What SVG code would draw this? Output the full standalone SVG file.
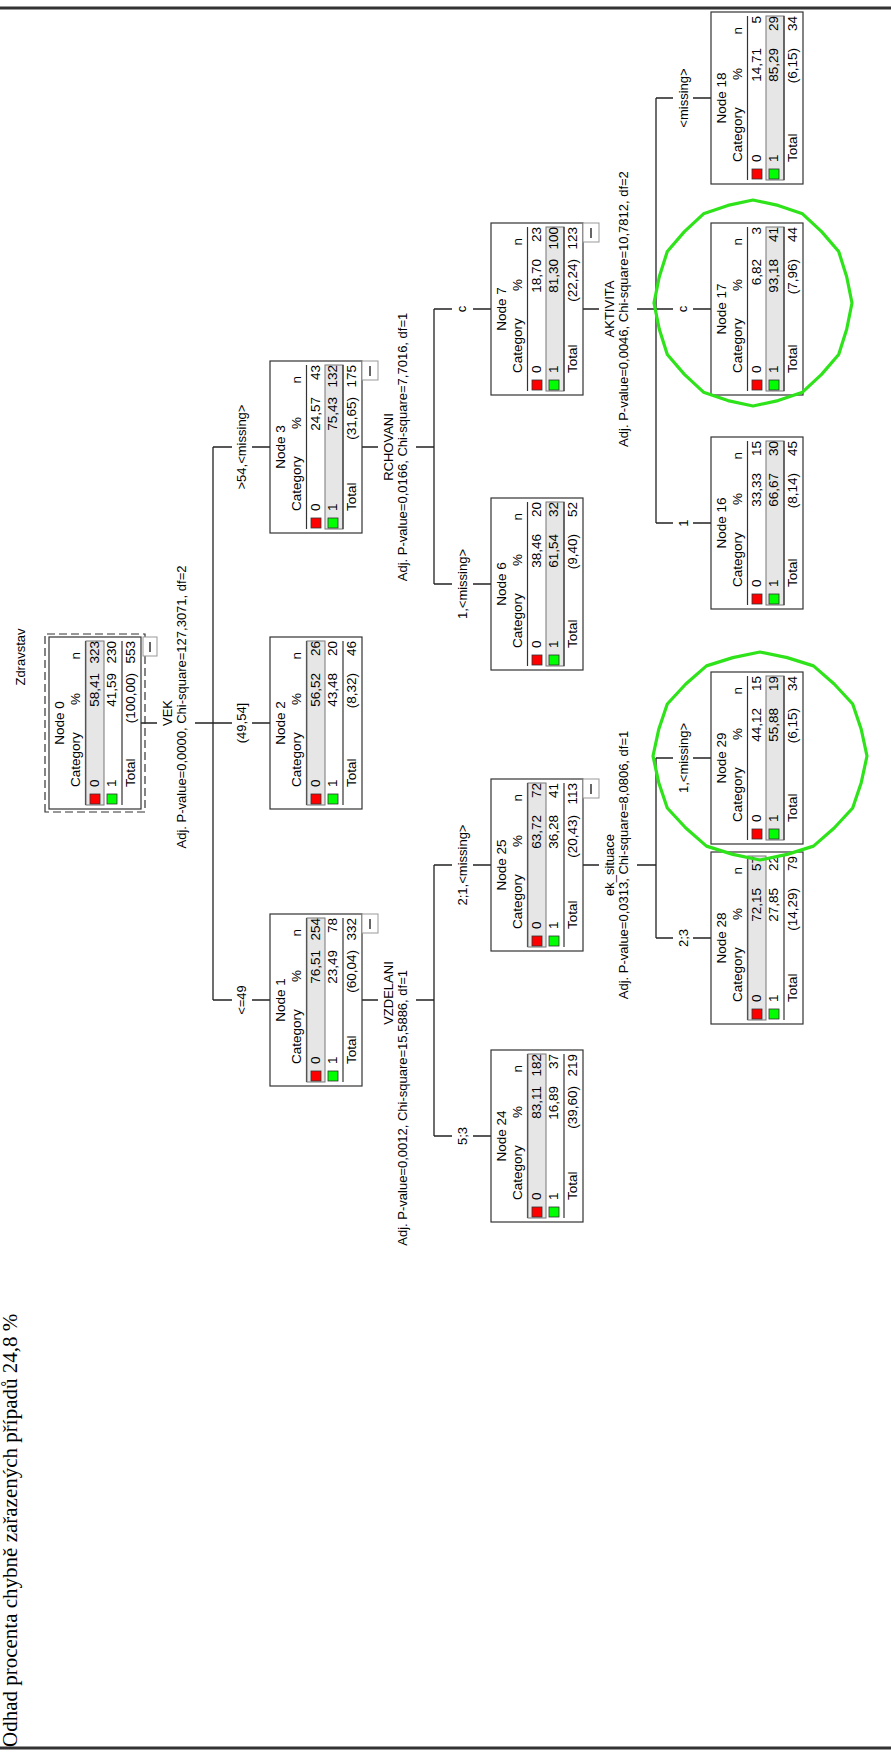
<svg xmlns="http://www.w3.org/2000/svg" width="891" height="1753" viewBox="0 0 891 1753">
<style>
.t{font-family:"Liberation Sans",Arial,sans-serif;font-size:13.5px;fill:#000}
.s{font-size:13px}
.m{text-anchor:middle}
.e{text-anchor:end}
.box{fill:#fff;stroke:#333;stroke-width:1.2}
.band{fill:#e6e6e6;stroke:#777;stroke-width:1}
.sep{stroke:#333;stroke-width:1.2}
.ln{stroke:#222;stroke-width:1.3;fill:none}
.red{fill:#f00;stroke:#333;stroke-width:.8}
.grn{fill:#0f0;stroke:#333;stroke-width:.8}
.btn{fill:#fff;stroke:#999;stroke-width:1}
.mi{stroke:#666;stroke-width:2}
.circ{fill:none;stroke:#2fe31b;stroke-width:3.2;stroke-linejoin:round}
.bd{stroke:#333;stroke-width:3}
</style>
<rect x="0" y="0" width="891" height="1753" fill="#fff"/>
<line class="bd" x1="0" y1="8" x2="891" y2="8"/>
<line class="bd" x1="0" y1="1748" x2="891" y2="1748"/>
<text x="17" y="1747" transform="rotate(-90 17 1747)" font-family="'Liberation Serif','Times New Roman',serif" font-size="21">Odhad procenta chybně zařazených případů 24,8 %</text>

<g transform="translate(0,1753) rotate(-90)">
<text class="t s m" x="1096" y="25">Zdravstav</text>

<g id="connectors">
<path class="ln" d="M1030 141V157M1030 195V213M753 362V378M753 416V434M1306 362V378M1306 416V434M888 583V599M888 637V656M1444 583V599M1444 637V656"/>
<path class="ln" d="M753 213H1306M1169 434H1444M617 434H888M1230 656H1655M815 656H995"/>
<path class="ln" d="M753 213V232M753 252V270M1030 213V232M1030 252V270M1306 213V232M1306 252V270"/>
<path class="ln" d="M1169 434V452M1169 473V491M1444 434V452M1444 473V491M617 434V452M617 473V491M888 434V452M888 473V491"/>
<path class="ln" d="M1230 656V673M1230 693V711M1444 656V673M1444 693V711M1655 656V673M1655 693V711M815 656V673M815 693V711M995 656V673M995 693V711"/>
<text class="t s m" x="753" y="246">&lt;=49</text>
<text class="t s m" x="1030" y="246">(49,54]</text>
<text class="t s m" x="1306" y="246">&gt;54,&lt;missing&gt;</text>
<text class="t s m" x="1169" y="467">1,&lt;missing&gt;</text>
<text class="t s m" x="1444" y="466">c</text>
<text class="t s m" x="617" y="467">5;3</text>
<text class="t s m" x="888" y="467">2;1,&lt;missing&gt;</text>
<text class="t s m" x="1230" y="688">1</text>
<text class="t s m" x="1444" y="687">c</text>
<text class="t s m" x="1655" y="688">&lt;missing&gt;</text>
<text class="t s m" x="815" y="688">2;3</text>
<text class="t s m" x="995" y="688">1,&lt;missing&gt;</text>
<text class="t s m" x="1040" y="172">VEK</text>
<text class="t s m" x="1046" y="186">Adj. P-value=0,0000, Chi-square=127,3071, df=2</text>
<text class="t s m" x="760" y="393">VZDELANI</text>
<text class="t s e" x="783" y="407">Adj. P-value=0,0012, Chi-square=15,5886, df=1</text>
<text class="t s m" x="1306" y="393">RCHOVANI</text>
<text class="t s m" x="1306" y="407">Adj. P-value=0,0166, Chi-square=7,7016, df=1</text>
<text class="t s m" x="888" y="614">ek_situace</text>
<text class="t s m" x="888" y="628">Adj. P-value=0,0313, Chi-square=8,0806, df=1</text>
<text class="t s m" x="1444" y="614">AKTIVITA</text>
<text class="t s m" x="1444" y="628">Adj. P-value=0,0046, Chi-square=10,7812, df=2</text>
</g>

<g id="node0" transform="translate(944,49)">
<rect x="-3" y="-4" width="178" height="100" fill="none" stroke="#333" stroke-width="1.2" stroke-dasharray="8,4"/>
<rect class="box" x="0" y="0" width="172" height="92" stroke-width="2"/>
<text class="t m" x="86" y="15">Node 0</text>
<text class="t" x="22" y="31">Category</text><text class="t e" x="116" y="31">%</text><text class="t e" x="157" y="31">n</text>
<line class="sep" x1="4" y1="36.5" x2="168" y2="36.5"/>
<rect class="band" x="4" y="37" width="164" height="18"/>
<rect class="red" x="5" y="41" width="10" height="10"/><text class="t" x="22" y="50">0</text><text class="t e" x="136" y="50">58,41</text><text class="t e" x="168" y="50">323</text>
<rect class="grn" x="5" y="58" width="10" height="10"/><text class="t" x="22" y="67">1</text><text class="t e" x="136" y="67">41,59</text><text class="t e" x="168" y="67">230</text>
<line class="sep" x1="4" y1="73" x2="168" y2="73"/>
<text class="t" x="22" y="86">Total</text><text class="t e" x="136" y="86">(100,00)</text><text class="t e" x="168" y="86">553</text>
<rect class="btn" x="153" y="94" width="19" height="14"/><line class="mi" x1="157" y1="101" x2="167" y2="101"/>
</g>

<g id="node1" transform="translate(667,270)">
<rect class="box" x="0" y="0" width="172" height="92"/>
<text class="t m" x="86" y="15">Node 1</text>
<text class="t" x="22" y="31">Category</text><text class="t e" x="116" y="31">%</text><text class="t e" x="157" y="31">n</text>
<line class="sep" x1="4" y1="36.5" x2="168" y2="36.5"/>
<rect class="band" x="4" y="37" width="164" height="18"/>
<rect class="red" x="5" y="41" width="10" height="10"/><text class="t" x="22" y="50">0</text><text class="t e" x="136" y="50">76,51</text><text class="t e" x="168" y="50">254</text>
<rect class="grn" x="5" y="58" width="10" height="10"/><text class="t" x="22" y="67">1</text><text class="t e" x="136" y="67">23,49</text><text class="t e" x="168" y="67">78</text>
<line class="sep" x1="4" y1="73" x2="168" y2="73"/>
<text class="t" x="22" y="86">Total</text><text class="t e" x="136" y="86">(60,04)</text><text class="t e" x="168" y="86">332</text>
<rect class="btn" x="153" y="92" width="19" height="16"/><line class="mi" x1="157" y1="100" x2="167" y2="100"/>
</g>

<g id="node2" transform="translate(944,270)">
<rect class="box" x="0" y="0" width="172" height="92"/>
<text class="t m" x="86" y="15">Node 2</text>
<text class="t" x="22" y="31">Category</text><text class="t e" x="116" y="31">%</text><text class="t e" x="157" y="31">n</text>
<line class="sep" x1="4" y1="36.5" x2="168" y2="36.5"/>
<rect class="band" x="4" y="37" width="164" height="18"/>
<rect class="red" x="5" y="41" width="10" height="10"/><text class="t" x="22" y="50">0</text><text class="t e" x="136" y="50">56,52</text><text class="t e" x="168" y="50">26</text>
<rect class="grn" x="5" y="58" width="10" height="10"/><text class="t" x="22" y="67">1</text><text class="t e" x="136" y="67">43,48</text><text class="t e" x="168" y="67">20</text>
<line class="sep" x1="4" y1="73" x2="168" y2="73"/>
<text class="t" x="22" y="86">Total</text><text class="t e" x="136" y="86">(8,32)</text><text class="t e" x="168" y="86">46</text>
</g>

<g id="node3" transform="translate(1220,270)">
<rect class="box" x="0" y="0" width="172" height="92"/>
<text class="t m" x="86" y="15">Node 3</text>
<text class="t" x="22" y="31">Category</text><text class="t e" x="116" y="31">%</text><text class="t e" x="157" y="31">n</text>
<line class="sep" x1="4" y1="36.5" x2="168" y2="36.5"/>
<rect class="band" x="4" y="55" width="164" height="18"/>
<rect class="red" x="5" y="41" width="10" height="10"/><text class="t" x="22" y="50">0</text><text class="t e" x="136" y="50">24,57</text><text class="t e" x="168" y="50">43</text>
<rect class="grn" x="5" y="58" width="10" height="10"/><text class="t" x="22" y="67">1</text><text class="t e" x="136" y="67">75,43</text><text class="t e" x="168" y="67">132</text>
<line class="sep" x1="4" y1="73" x2="168" y2="73"/>
<text class="t" x="22" y="86">Total</text><text class="t e" x="136" y="86">(31,65)</text><text class="t e" x="168" y="86">175</text>
<rect class="btn" x="153" y="92" width="19" height="16"/><line class="mi" x1="157" y1="100" x2="167" y2="100"/>
</g>

<g id="node6" transform="translate(1083,491)">
<rect class="box" x="0" y="0" width="172" height="92"/>
<text class="t m" x="86" y="15">Node 6</text>
<text class="t" x="22" y="31">Category</text><text class="t e" x="116" y="31">%</text><text class="t e" x="157" y="31">n</text>
<line class="sep" x1="4" y1="36.5" x2="168" y2="36.5"/>
<rect class="band" x="4" y="55" width="164" height="18"/>
<rect class="red" x="5" y="41" width="10" height="10"/><text class="t" x="22" y="50">0</text><text class="t e" x="136" y="50">38,46</text><text class="t e" x="168" y="50">20</text>
<rect class="grn" x="5" y="58" width="10" height="10"/><text class="t" x="22" y="67">1</text><text class="t e" x="136" y="67">61,54</text><text class="t e" x="168" y="67">32</text>
<line class="sep" x1="4" y1="73" x2="168" y2="73"/>
<text class="t" x="22" y="86">Total</text><text class="t e" x="136" y="86">(9,40)</text><text class="t e" x="168" y="86">52</text>
</g>

<g id="node7" transform="translate(1358,491)">
<rect class="box" x="0" y="0" width="172" height="92"/>
<text class="t m" x="86" y="15">Node 7</text>
<text class="t" x="22" y="31">Category</text><text class="t e" x="116" y="31">%</text><text class="t e" x="157" y="31">n</text>
<line class="sep" x1="4" y1="36.5" x2="168" y2="36.5"/>
<rect class="band" x="4" y="55" width="164" height="18"/>
<rect class="red" x="5" y="41" width="10" height="10"/><text class="t" x="22" y="50">0</text><text class="t e" x="136" y="50">18,70</text><text class="t e" x="168" y="50">23</text>
<rect class="grn" x="5" y="58" width="10" height="10"/><text class="t" x="22" y="67">1</text><text class="t e" x="136" y="67">81,30</text><text class="t e" x="168" y="67">100</text>
<line class="sep" x1="4" y1="73" x2="168" y2="73"/>
<text class="t" x="22" y="86">Total</text><text class="t e" x="136" y="86">(22,24)</text><text class="t e" x="168" y="86">123</text>
<rect class="btn" x="153" y="92" width="19" height="16"/><line class="mi" x1="157" y1="100" x2="167" y2="100"/>
</g>

<g id="node24" transform="translate(531,491)">
<rect class="box" x="0" y="0" width="172" height="92"/>
<text class="t m" x="86" y="15">Node 24</text>
<text class="t" x="22" y="31">Category</text><text class="t e" x="116" y="31">%</text><text class="t e" x="157" y="31">n</text>
<line class="sep" x1="4" y1="36.5" x2="168" y2="36.5"/>
<rect class="band" x="4" y="37" width="164" height="18"/>
<rect class="red" x="5" y="41" width="10" height="10"/><text class="t" x="22" y="50">0</text><text class="t e" x="136" y="50">83,11</text><text class="t e" x="168" y="50">182</text>
<rect class="grn" x="5" y="58" width="10" height="10"/><text class="t" x="22" y="67">1</text><text class="t e" x="136" y="67">16,89</text><text class="t e" x="168" y="67">37</text>
<line class="sep" x1="4" y1="73" x2="168" y2="73"/>
<text class="t" x="22" y="86">Total</text><text class="t e" x="136" y="86">(39,60)</text><text class="t e" x="168" y="86">219</text>
</g>

<g id="node25" transform="translate(802,491)">
<rect class="box" x="0" y="0" width="172" height="92"/>
<text class="t m" x="86" y="15">Node 25</text>
<text class="t" x="22" y="31">Category</text><text class="t e" x="116" y="31">%</text><text class="t e" x="157" y="31">n</text>
<line class="sep" x1="4" y1="36.5" x2="168" y2="36.5"/>
<rect class="band" x="4" y="37" width="164" height="18"/>
<rect class="red" x="5" y="41" width="10" height="10"/><text class="t" x="22" y="50">0</text><text class="t e" x="136" y="50">63,72</text><text class="t e" x="168" y="50">72</text>
<rect class="grn" x="5" y="58" width="10" height="10"/><text class="t" x="22" y="67">1</text><text class="t e" x="136" y="67">36,28</text><text class="t e" x="168" y="67">41</text>
<line class="sep" x1="4" y1="73" x2="168" y2="73"/>
<text class="t" x="22" y="86">Total</text><text class="t e" x="136" y="86">(20,43)</text><text class="t e" x="168" y="86">113</text>
<rect class="btn" x="153" y="92" width="19" height="16"/><line class="mi" x1="157" y1="100" x2="167" y2="100"/>
</g>

<g id="node16" transform="translate(1144,711)">
<rect class="box" x="0" y="0" width="172" height="92"/>
<text class="t m" x="86" y="15">Node 16</text>
<text class="t" x="22" y="31">Category</text><text class="t e" x="116" y="31">%</text><text class="t e" x="157" y="31">n</text>
<line class="sep" x1="4" y1="36.5" x2="168" y2="36.5"/>
<rect class="band" x="4" y="55" width="164" height="18"/>
<rect class="red" x="5" y="41" width="10" height="10"/><text class="t" x="22" y="50">0</text><text class="t e" x="136" y="50">33,33</text><text class="t e" x="168" y="50">15</text>
<rect class="grn" x="5" y="58" width="10" height="10"/><text class="t" x="22" y="67">1</text><text class="t e" x="136" y="67">66,67</text><text class="t e" x="168" y="67">30</text>
<line class="sep" x1="4" y1="73" x2="168" y2="73"/>
<text class="t" x="22" y="86">Total</text><text class="t e" x="136" y="86">(8,14)</text><text class="t e" x="168" y="86">45</text>
</g>

<g id="node17" transform="translate(1358,711)">
<rect class="box" x="0" y="0" width="172" height="92"/>
<text class="t m" x="86" y="15">Node 17</text>
<text class="t" x="22" y="31">Category</text><text class="t e" x="116" y="31">%</text><text class="t e" x="157" y="31">n</text>
<line class="sep" x1="4" y1="36.5" x2="168" y2="36.5"/>
<rect class="band" x="4" y="55" width="164" height="18"/>
<rect class="red" x="5" y="41" width="10" height="10"/><text class="t" x="22" y="50">0</text><text class="t e" x="136" y="50">6,82</text><text class="t e" x="168" y="50">3</text>
<rect class="grn" x="5" y="58" width="10" height="10"/><text class="t" x="22" y="67">1</text><text class="t e" x="136" y="67">93,18</text><text class="t e" x="168" y="67">41</text>
<line class="sep" x1="4" y1="73" x2="168" y2="73"/>
<text class="t" x="22" y="86">Total</text><text class="t e" x="136" y="86">(7,96)</text><text class="t e" x="168" y="86">44</text>
</g>

<g id="node18" transform="translate(1569,711)">
<rect class="box" x="0" y="0" width="172" height="92"/>
<text class="t m" x="86" y="15">Node 18</text>
<text class="t" x="22" y="31">Category</text><text class="t e" x="116" y="31">%</text><text class="t e" x="157" y="31">n</text>
<line class="sep" x1="4" y1="36.5" x2="168" y2="36.5"/>
<rect class="band" x="4" y="55" width="164" height="18"/>
<rect class="red" x="5" y="41" width="10" height="10"/><text class="t" x="22" y="50">0</text><text class="t e" x="136" y="50">14,71</text><text class="t e" x="168" y="50">5</text>
<rect class="grn" x="5" y="58" width="10" height="10"/><text class="t" x="22" y="67">1</text><text class="t e" x="136" y="67">85,29</text><text class="t e" x="168" y="67">29</text>
<line class="sep" x1="4" y1="73" x2="168" y2="73"/>
<text class="t" x="22" y="86">Total</text><text class="t e" x="136" y="86">(6,15)</text><text class="t e" x="168" y="86">34</text>
</g>

<g id="node28" transform="translate(729,711)">
<rect class="box" x="0" y="0" width="172" height="92"/>
<text class="t m" x="86" y="15">Node 28</text>
<text class="t" x="22" y="31">Category</text><text class="t e" x="116" y="31">%</text><text class="t e" x="157" y="31">n</text>
<line class="sep" x1="4" y1="36.5" x2="168" y2="36.5"/>
<rect class="band" x="4" y="37" width="164" height="18"/>
<rect class="red" x="5" y="41" width="10" height="10"/><text class="t" x="22" y="50">0</text><text class="t e" x="136" y="50">72,15</text><text class="t e" x="168" y="50">57</text>
<rect class="grn" x="5" y="58" width="10" height="10"/><text class="t" x="22" y="67">1</text><text class="t e" x="136" y="67">27,85</text><text class="t e" x="168" y="67">22</text>
<line class="sep" x1="4" y1="73" x2="168" y2="73"/>
<text class="t" x="22" y="86">Total</text><text class="t e" x="136" y="86">(14,29)</text><text class="t e" x="168" y="86">79</text>
</g>

<g id="node29" transform="translate(909,711)">
<rect class="box" x="0" y="0" width="172" height="92"/>
<text class="t m" x="86" y="15">Node 29</text>
<text class="t" x="22" y="31">Category</text><text class="t e" x="116" y="31">%</text><text class="t e" x="157" y="31">n</text>
<line class="sep" x1="4" y1="36.5" x2="168" y2="36.5"/>
<rect class="band" x="4" y="55" width="164" height="18"/>
<rect class="red" x="5" y="41" width="10" height="10"/><text class="t" x="22" y="50">0</text><text class="t e" x="136" y="50">44,12</text><text class="t e" x="168" y="50">15</text>
<rect class="grn" x="5" y="58" width="10" height="10"/><text class="t" x="22" y="67">1</text><text class="t e" x="136" y="67">55,88</text><text class="t e" x="168" y="67">19</text>
<line class="sep" x1="4" y1="73" x2="168" y2="73"/>
<text class="t" x="22" y="86">Total</text><text class="t e" x="136" y="86">(6,15)</text><text class="t e" x="168" y="86">34</text>
</g>
</g>

<g id="highlights">
<polygon class="circ" points="852,303 846.7,329.2 838.7,354.5 821.6,374.4 802.5,392.2 778.1,400.6 753,406 727.9,400.6 703.5,392.2 684.4,374.4 667.3,354.5 659.3,329.2 654,303 659.3,276.8 667.3,251.5 684.4,231.6 703.5,213.8 727.9,205.4 753,200 778.1,205.4 802.5,213.8 821.6,231.6 838.7,251.5 846.7,276.8"/>
<polygon class="circ" points="867,756 861.3,782.4 852.7,808 834.2,828 813.5,846.1 787.2,854.4 760,860 732.8,854.4 706.5,846.1 685.8,828 667.3,808 658.7,782.4 653,756 658.7,729.6 667.3,704 685.8,684 706.5,665.9 732.8,657.6 760,652 787.2,657.6 813.5,665.9 834.2,684 852.7,704 861.3,729.6"/>
</g>
</svg>
